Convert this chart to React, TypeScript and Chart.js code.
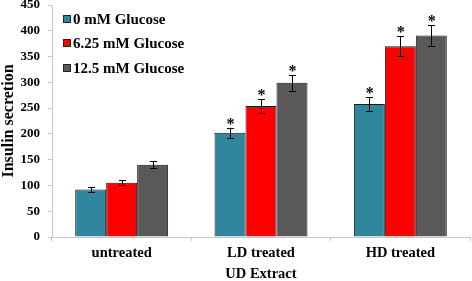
import React, { useEffect, useRef } from "react";
import { Chart, registerables } from "chart.js";

Chart.register(...registerables);

const categories = ["untreated", "LD treated", "HD treated"];
const seriesLabels = ["0 mM Glucose", "6.25 mM Glucose", "12.5 mM Glucose"];
const glucose0 = [92, 202, 258];
const glucose625 = [105, 254, 370];
const glucose125 = [140, 299, 391];
const err0 = [5, 10, 13];
const err625 = [5, 13, 19];
const err125 = [7, 15, 20];
const star0 = [false, true, true];
const star625 = [false, true, true];
const star125 = [false, true, true];
const yTicksMax = 450;
const yStep = 50;

const colors = ["#31859C", "#FF0000", "#595959"];
const FONT = "'Liberation Serif', 'Times New Roman', serif";

const errors = [err0, err625, err125];
const stars = [star0, star625, star125];

const overlayPlugin = {
  id: "overlay",
  afterDatasetsDraw(chart: any) {
    const ctx = chart.ctx;
    const y = chart.scales.y;
    ctx.save();
    chart.data.datasets.forEach((ds: any, di: number) => {
      const meta = chart.getDatasetMeta(di);
      meta.data.forEach((bar: any, i: number) => {
        const v = ds.data[i];
        const e = errors[di][i];
        const x = bar.x;
        const yt = y.getPixelForValue(v + e);
        const yb = y.getPixelForValue(v - e);
        ctx.strokeStyle = "#000";
        ctx.lineWidth = 1;
        ctx.beginPath();
        ctx.moveTo(Math.round(x) + 0.5, yt);
        ctx.lineTo(Math.round(x) + 0.5, yb);
        ctx.moveTo(Math.round(x) - 3, Math.round(yt) + 0.5);
        ctx.lineTo(Math.round(x) + 4, Math.round(yt) + 0.5);
        ctx.moveTo(Math.round(x) - 3, Math.round(yb) + 0.5);
        ctx.lineTo(Math.round(x) + 4, Math.round(yb) + 0.5);
        ctx.stroke();
        if (stars[di][i]) {
          ctx.fillStyle = "#000";
          ctx.font = `bold 16px ${FONT}`;
          ctx.textAlign = "center";
          ctx.textBaseline = "alphabetic";
          ctx.fillText("*", x + 0.5, yt + 1);
        }
      });
    });
    // legend
    ctx.font = `bold 15px ${FONT}`;
    ctx.textAlign = "left";
    ctx.textBaseline = "middle";
    const rows = [19, 43, 68];
    chart.data.datasets.forEach((ds: any, di: number) => {
      const cy = rows[di];
      ctx.fillStyle = ds.backgroundColor;
      ctx.fillRect(63, cy - 4, 8, 8);
      ctx.strokeStyle = "#222";
      ctx.lineWidth = 1;
      ctx.strokeRect(63.5, cy - 3.5, 7, 7);
      ctx.fillStyle = "#000";
      ctx.fillText(ds.label, 73, cy + 1);
    });
    ctx.restore();
  },
};

export default function App() {
  const ref = useRef<HTMLCanvasElement | null>(null);
  useEffect(() => {
    document.body.style.margin = "0";
    const canvas = ref.current;
    if (!canvas) return;
    const chart = new Chart(canvas, {
      type: "bar",
      data: {
        labels: categories,
        datasets: [glucose0, glucose625, glucose125].map((d, i) => ({
          label: seriesLabels[i],
          data: d,
          backgroundColor: colors[i],
          borderColor: "#1a1a1a",
          borderWidth: 1,
          categoryPercentage: 0.667,
          barPercentage: 1.0,
        })),
      },
      options: {
        animation: false,
        responsive: true,
        maintainAspectRatio: false,
        layout: { padding: { top: 5, right: 2, left: 0, bottom: 0 } },
        plugins: {
          legend: { display: false },
          tooltip: { enabled: false },
        },
        scales: {
          x: {
            grid: {
              display: true,
              drawOnChartArea: false,
              drawTicks: true,
              tickLength: 4,
              color: "#c8c8c8",
            },
            border: { display: true, color: "#c8c8c8" },
            ticks: {
              color: "#000",
              padding: 4,
              font: { family: FONT, size: 14.5, weight: "bold" },
            },
            title: {
              display: true,
              text: "UD Extract",
              color: "#000",
              padding: { top: 0, bottom: 0 },
              font: { family: FONT, size: 14.5, weight: "bold", lineHeight: 1 },
            },
            afterFit(scale: any) {
              scale.height = 44;
              scale.paddingLeft = 0;
              scale.paddingRight = 0;
            },
          },
          y: {
            min: 0,
            max: yTicksMax,
            grid: {
              display: true,
              drawOnChartArea: false,
              drawTicks: true,
              tickLength: 4,
              color: "#c8c8c8",
            },
            border: { display: true, color: "#c8c8c8" },
            ticks: {
              stepSize: yStep,
              color: "#000",
              padding: 8,
              font: { family: FONT, size: 13, weight: "bold" },
            },
            title: {
              display: true,
              text: "Insulin secretion",
              color: "#000",
              padding: { top: 0, bottom: 0 },
              font: { family: FONT, size: 16, weight: "bold", lineHeight: 1.1 },
            },
            afterFit(scale: any) {
              scale.width = 52;
              scale.paddingTop = 0;
              scale.paddingBottom = 0;
            },
          },
        },
      },
      plugins: [overlayPlugin],
    } as any);
    return () => chart.destroy();
  }, []);
  return (
    <div style={{ position: "relative", width: 472, height: 281 }}>
      <canvas ref={ref} />
    </div>
  );
}
